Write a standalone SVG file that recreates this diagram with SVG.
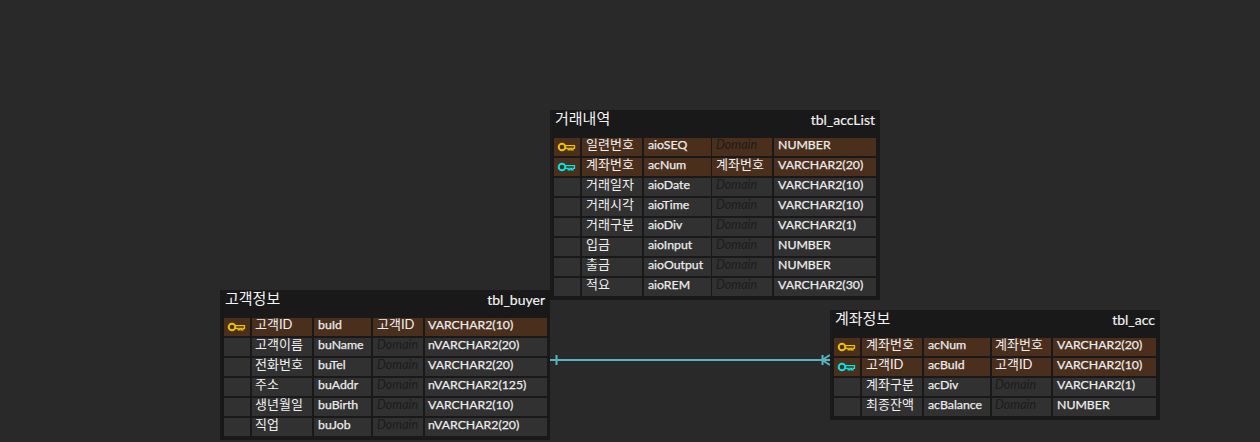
<svg xmlns="http://www.w3.org/2000/svg" width="1260" height="442" viewBox="0 0 1260 442">
<style>
text{font-family:"Lato","Noto Sans CJK KR",sans-serif;font-size:12.300px;fill:#ececec;font-weight:400;stroke:#ececec;stroke-width:.25px}
.n{font-size:13px;fill:#f0f0f0;stroke:none}
.t{font-size:14px;fill:#f4f4f4;stroke:#f4f4f4;stroke-width:.15px}
.h{font-size:15px;fill:#f4f4f4;stroke:none}
.d{font-style:italic;fill:#1c1c1c;stroke:none;font-size:12.500px}
.tb{fill:#191919}
.c{fill:#313131}
.p{fill:#4a2f1c}
.k{fill:none;stroke-width:2}
</style>
<defs>
<g id="key"><circle cx="5" cy="0" r="3.300" class="k"/><path fill="none" stroke-width="1.300" d="M8.400-1.300H17.500V1.300H16V2.900H14.400V1.300H12.800V2.900H11.200V1.300H8.400"/></g>
</defs>
<rect width="1260" height="442" fill="#292929"/>
<g id="connectors"><path d="M550 360H830" stroke="#57b5c0" stroke-width="2" fill="none"/><path d="M556.500 355V365M822 360L830 355M822 360L830 365M822.500 355V365" stroke="#57b5c0" stroke-width="2" fill="none"/></g>
<g id="tbl_accList"><rect class="tb" x="550" y="110" width="330" height="190"/><text class="h" x="555" y="124">거래내역</text><text class="t" x="875" y="125" text-anchor="end">tbl_accList</text>
<path class="p" d="M554 138h26v18h-26zM582 138h60v18h-60zM644 138h67v18h-67zM712 138h60v18h-60zM774 138h102v18h-102zM554 158h26v18h-26zM582 158h60v18h-60zM644 158h67v18h-67zM712 158h60v18h-60zM774 158h102v18h-102z"/>
<path class="c" d="M554 178h26v18h-26zM582 178h60v18h-60zM644 178h67v18h-67zM712 178h60v18h-60zM774 178h102v18h-102zM554 198h26v18h-26zM582 198h60v18h-60zM644 198h67v18h-67zM712 198h60v18h-60zM774 198h102v18h-102zM554 218h26v18h-26zM582 218h60v18h-60zM644 218h67v18h-67zM712 218h60v18h-60zM774 218h102v18h-102zM554 238h26v18h-26zM582 238h60v18h-60zM644 238h67v18h-67zM712 238h60v18h-60zM774 238h102v18h-102zM554 258h26v18h-26zM582 258h60v18h-60zM644 258h67v18h-67zM712 258h60v18h-60zM774 258h102v18h-102zM554 278h26v18h-26zM582 278h60v18h-60zM644 278h67v18h-67zM712 278h60v18h-60zM774 278h102v18h-102z"/>
<use href="#key" x="557" y="147" stroke="#f0c000"/><use href="#key" x="557" y="167" stroke="#00e5e5"/>
<text class="n" x="586" y="149">일련번호</text><text x="648" y="149">aioSEQ</text><text class="d" x="716" y="149">Domain</text><text x="778" y="149">NUMBER</text>
<text class="n" x="586" y="169">계좌번호</text><text x="648" y="169">acNum</text><text class="n" x="716" y="169">계좌번호</text><text x="778" y="169">VARCHAR2(20)</text>
<text class="n" x="586" y="189">거래일자</text><text x="648" y="189">aioDate</text><text class="d" x="716" y="189">Domain</text><text x="778" y="189">VARCHAR2(10)</text>
<text class="n" x="586" y="209">거래시각</text><text x="648" y="209">aioTime</text><text class="d" x="716" y="209">Domain</text><text x="778" y="209">VARCHAR2(10)</text>
<text class="n" x="586" y="229">거래구분</text><text x="648" y="229">aioDiv</text><text class="d" x="716" y="229">Domain</text><text x="778" y="229">VARCHAR2(1)</text>
<text class="n" x="586" y="249">입금</text><text x="648" y="249">aioInput</text><text class="d" x="716" y="249">Domain</text><text x="778" y="249">NUMBER</text>
<text class="n" x="586" y="269">출금</text><text x="648" y="269">aioOutput</text><text class="d" x="716" y="269">Domain</text><text x="778" y="269">NUMBER</text>
<text class="n" x="586" y="289">적요</text><text x="648" y="289">aioREM</text><text class="d" x="716" y="289">Domain</text><text x="778" y="289">VARCHAR2(30)</text></g>
<g id="tbl_buyer"><rect class="tb" x="220" y="290" width="330" height="150"/><text class="h" x="225" y="304">고객정보</text><text class="t" x="545" y="305" text-anchor="end">tbl_buyer</text>
<path class="p" d="M224 318h26v18h-26zM252 318h60v18h-60zM314 318h57v18h-57zM373 318h50v18h-50zM425 318h122v18h-122z"/>
<path class="c" d="M224 338h26v18h-26zM252 338h60v18h-60zM314 338h57v18h-57zM373 338h50v18h-50zM425 338h122v18h-122zM224 358h26v18h-26zM252 358h60v18h-60zM314 358h57v18h-57zM373 358h50v18h-50zM425 358h122v18h-122zM224 378h26v18h-26zM252 378h60v18h-60zM314 378h57v18h-57zM373 378h50v18h-50zM425 378h122v18h-122zM224 398h26v18h-26zM252 398h60v18h-60zM314 398h57v18h-57zM373 398h50v18h-50zM425 398h122v18h-122zM224 418h26v18h-26zM252 418h60v18h-60zM314 418h57v18h-57zM373 418h50v18h-50zM425 418h122v18h-122z"/>
<use href="#key" x="227" y="327" stroke="#f0c000"/>
<text class="n" x="255" y="329">고객ID</text><text x="318" y="329">buId</text><text class="n" x="377" y="329">고객ID</text><text x="428" y="329">VARCHAR2(10)</text>
<text class="n" x="255" y="349">고객이름</text><text x="318" y="349">buName</text><text class="d" x="377" y="349">Domain</text><text x="428" y="349">nVARCHAR2(20)</text>
<text class="n" x="255" y="369">전화번호</text><text x="318" y="369">buTel</text><text class="d" x="377" y="369">Domain</text><text x="428" y="369">VARCHAR2(20)</text>
<text class="n" x="255" y="389">주소</text><text x="318" y="389">buAddr</text><text class="d" x="377" y="389">Domain</text><text x="428" y="389">nVARCHAR2(125)</text>
<text class="n" x="255" y="409">생년월일</text><text x="318" y="409">buBirth</text><text class="d" x="377" y="409">Domain</text><text x="428" y="409">VARCHAR2(10)</text>
<text class="n" x="255" y="429">직업</text><text x="318" y="429">buJob</text><text class="d" x="377" y="429">Domain</text><text x="428" y="429">nVARCHAR2(20)</text></g>
<g id="tbl_acc"><rect class="tb" x="830" y="310" width="330" height="110"/><text class="h" x="835" y="324">계좌정보</text><text class="t" x="1155" y="325" text-anchor="end">tbl_acc</text>
<path class="p" d="M834 338h26v18h-26zM862 338h60v18h-60zM924 338h66v18h-66zM992 338h59v18h-59zM1053 338h103v18h-103zM834 358h26v18h-26zM862 358h60v18h-60zM924 358h66v18h-66zM992 358h59v18h-59zM1053 358h103v18h-103z"/>
<path class="c" d="M834 378h26v18h-26zM862 378h60v18h-60zM924 378h66v18h-66zM992 378h59v18h-59zM1053 378h103v18h-103zM834 398h26v18h-26zM862 398h60v18h-60zM924 398h66v18h-66zM992 398h59v18h-59zM1053 398h103v18h-103z"/>
<use href="#key" x="837" y="347" stroke="#f0c000"/><use href="#key" x="837" y="367" stroke="#00e5e5"/>
<text class="n" x="866" y="349">계좌번호</text><text x="928" y="349">acNum</text><text class="n" x="995" y="349">계좌번호</text><text x="1057" y="349">VARCHAR2(20)</text>
<text class="n" x="866" y="369">고객ID</text><text x="928" y="369">acBuId</text><text class="n" x="995" y="369">고객ID</text><text x="1057" y="369">VARCHAR2(10)</text>
<text class="n" x="866" y="389">계좌구분</text><text x="928" y="389">acDiv</text><text class="d" x="995" y="389">Domain</text><text x="1057" y="389">VARCHAR2(1)</text>
<text class="n" x="866" y="409">최종잔액</text><text x="928" y="409">acBalance</text><text class="d" x="995" y="409">Domain</text><text x="1057" y="409">NUMBER</text></g>
</svg>
